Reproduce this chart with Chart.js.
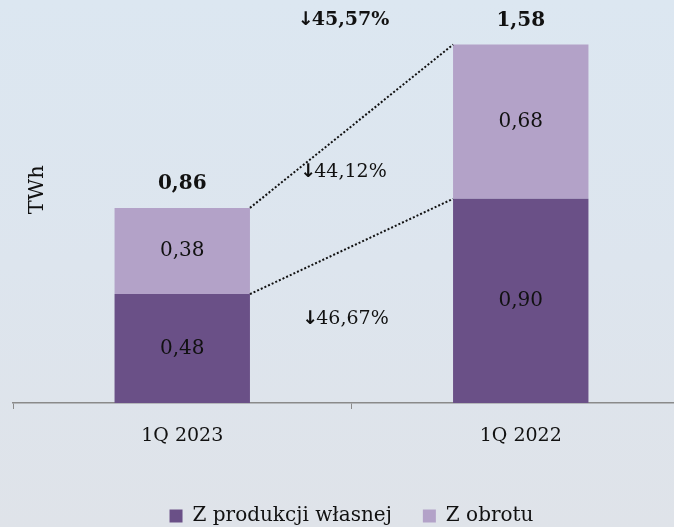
<!DOCTYPE html>
<html>
<head>
<meta charset="utf-8">
<script src="https://cdn.jsdelivr.net/npm/chart.js@4.4.0/dist/chart.umd.min.js"></script>
<style>
  html, body { margin: 0; padding: 0; width: 674px; height: 527px; overflow: hidden;
    background: linear-gradient(to bottom, #dce7f1 0%, #dde5ee 50%, #dfe3e9 100%); }
  #wrap { position: absolute; left: 0; top: 0; width: 742px; height: 536px; }
</style>
</head>
<body>
<div id="wrap"><canvas id="c"></canvas></div>
<script>
const categories = ['1Q 2023', '1Q 2022'];
const seriesNames = ['Z produkcji własnej', 'Z obrotu'];
const ownProduction = [0.48, 0.90];
const trading = [0.38, 0.68];
const totals = [0.86, 1.58];
const seriesColors = ['#6a5087', '#b3a2c8'];
const yAxisTitle = 'TWh';

const FONT = '"DejaVu Serif", serif';
Chart.defaults.font.family = FONT;
const fmt = v => v.toFixed(2).replace('.', ',');
const pctText = (a, b) => Math.abs((a - b) / b * 100).toFixed(2).replace('.', ',') + '%';

function drawChange(ctx, a, b, cx, cy, bold) {
  const txt = pctText(a, b);
  ctx.font = (bold ? 'bold ' : '') + '19px ' + FONT;
  const tw = ctx.measureText(txt).width;
  ctx.font = 'bold 19px "DejaVu Sans", sans-serif';
  const aw = ctx.measureText('\u2193').width;
  const x0 = cx - (tw + aw - 2) / 2;
  ctx.textAlign = 'left';
  ctx.fillText('\u2193', x0, cy);
  ctx.font = (bold ? 'bold ' : '') + '19px ' + FONT;
  ctx.fillText(txt, x0 + aw - 2, cy);
  ctx.textAlign = 'center';
}

const labelPlugin = {
  id: 'labels',
  afterDatasetsDraw(chart) {
    const ctx = chart.ctx;
    const y = chart.scales.y;
    const m0 = chart.getDatasetMeta(0), m1 = chart.getDatasetMeta(1);
    ctx.save();
    ctx.textAlign = 'center';
    ctx.textBaseline = 'middle';
    ctx.fillStyle = '#111';
    ctx.font = '20px ' + FONT;
    [m0, m1].forEach((m, di) => {
      m.data.forEach((el, i) => {
        const v = chart.data.datasets[di].data[i];
        ctx.fillText(fmt(v), el.x, (el.y + el.base) / 2);
      });
    });
    ctx.font = 'bold 20px ' + FONT;
    m1.data.forEach((el, i) => {
      ctx.fillText(fmt(totals[i]), el.x, el.y - 24);
    });
    // dotted connectors
    ctx.strokeStyle = '#111';
    ctx.lineWidth = 2;
    ctx.setLineDash([2, 2]);
    [m1, m0].forEach(m => {
      const a = m.data[0], b = m.data[1];
      ctx.beginPath();
      ctx.moveTo(a.x + a.width / 2, a.y);
      ctx.lineTo(b.x - b.width / 2, b.y);
      ctx.stroke();
    });
    ctx.setLineDash([]);
    // change annotations
    const cx = (m0.data[0].x + m0.data[1].x) / 2 - 8;
    drawChange(ctx, totals[0], totals[1], cx, m1.data[1].y - 24, true);
    drawChange(ctx, trading[0], trading[1], cx, y.getPixelForValue(1.02), false);
    drawChange(ctx, ownProduction[0], ownProduction[1], cx + 2, y.getPixelForValue(0.37), false);
    // y title
    ctx.save();
    ctx.translate(38, y.getPixelForValue(0.94));
    ctx.rotate(-Math.PI / 2);
    ctx.font = '21px ' + FONT;
    ctx.fillText(yAxisTitle, 0, 0);
    ctx.restore();
    ctx.restore();
  }
};

new Chart(document.getElementById('c'), {
  type: 'bar',
  data: {
    labels: categories,
    datasets: [
      { label: seriesNames[0], data: ownProduction, backgroundColor: seriesColors[0], barPercentage: 0.4, categoryPercentage: 1 },
      { label: seriesNames[1], data: trading, backgroundColor: seriesColors[1], barPercentage: 0.4, categoryPercentage: 1 }
    ]
  },
  options: {
    responsive: true,
    maintainAspectRatio: false,
    animation: false,
    layout: { padding: { left: 13, right: 52, top: 40, bottom: 0 } },
    plugins: {
      legend: {
        position: 'bottom',
        labels: { font: { family: FONT, size: 20 }, color: '#111', boxWidth: 13, boxHeight: 13, padding: 31 }
      },
      tooltip: { enabled: false }
    },
    scales: {
      x: {
        stacked: true,
        afterFit: s => { s.height = 72; },
        grid: { display: true, drawOnChartArea: false, drawTicks: true, tickLength: 6, color: '#8a8a8a', offset: true },
        border: { display: true, color: '#8a8a8a', width: 1.5 },
        ticks: { font: { family: FONT, size: 19 }, color: '#111', padding: 16 }
      },
      y: {
        stacked: true, display: false, min: 0, max: 1.6
      }
    }
  },
  plugins: [labelPlugin]
});
</script>
</body>
</html>
